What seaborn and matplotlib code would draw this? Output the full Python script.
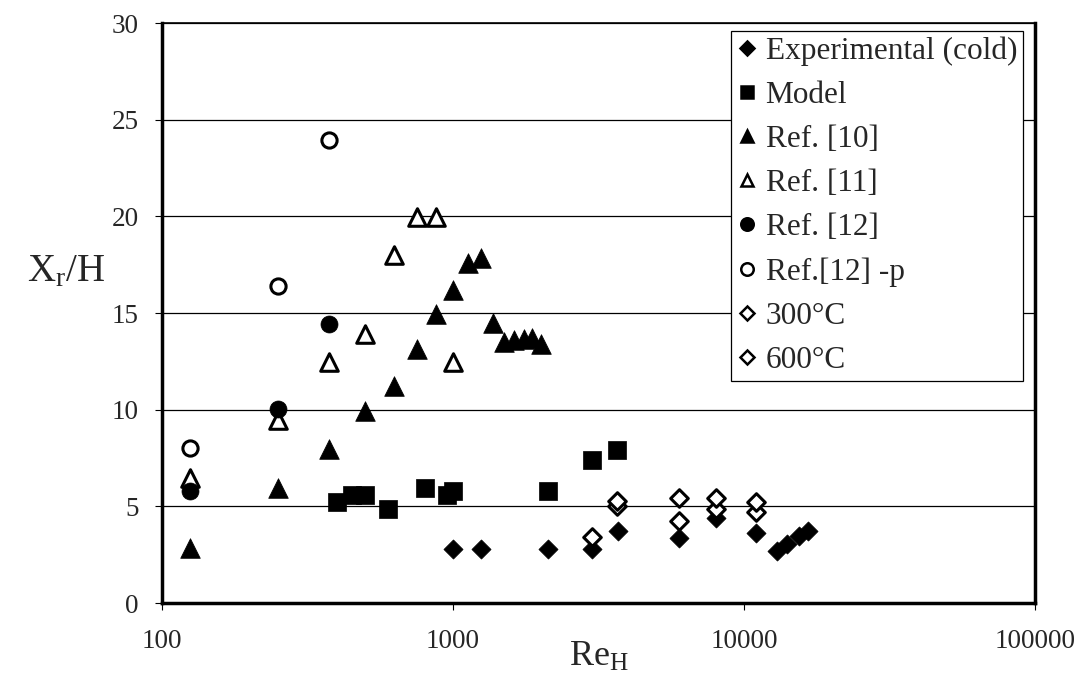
import matplotlib
matplotlib.use("Agg")
import matplotlib.pyplot as plt
from matplotlib.lines import Line2D
import seaborn as sns
import pandas as pd

# values
re_exp = [1000, 1250, 2120, 3000, 3700, 6000, 8000, 11000, 13000, 14000, 15500, 16600]
xr_exp = [2.8, 2.8, 2.8, 2.8, 3.7, 3.35, 4.4, 3.6, 2.7, 3.05, 3.45, 3.75]

re_model = [400, 450, 500, 600, 800, 950, 1000, 2120, 3000, 3650]
xr_model = [5.25, 5.6, 5.6, 4.85, 5.95, 5.6, 5.8, 5.8, 7.4, 7.9]

re_ref10 = [125, 250, 375, 500, 625, 750, 875, 1000, 1130, 1250, 1375, 1500, 1625, 1750, 1875, 2000]
xr_ref10 = [2.85, 5.95, 7.95, 9.95, 11.25, 13.15, 14.95, 16.2, 17.6, 17.85, 14.5, 13.5, 13.6, 13.65, 13.7, 13.4]

re_ref11 = [125, 250, 375, 500, 625, 750, 875, 1000]
xr_ref11 = [6.45, 9.45, 12.45, 13.9, 18.0, 19.95, 19.95, 12.45]

re_ref12 = [125, 250, 375]
xr_ref12 = [5.8, 10.05, 14.45]

re_ref12p = [125, 250, 375]
xr_ref12p = [8.0, 16.4, 23.95]

re_300 = [3000, 3650, 6000, 8000, 11000]
xr_300 = [3.4, 5.0, 4.25, 4.85, 4.7]

re_600 = [3650, 6000, 8000, 11000]
xr_600 = [5.3, 5.45, 5.45, 5.2]

y_ticks = [0, 5, 10, 15, 20, 25, 30]
x_ticks = [100, 1000, 10000, 100000]

sns.set_theme(style="white")
plt.rcParams["font.family"] = ["Liberation Serif", "DejaVu Serif"]
plt.rcParams["mathtext.fontset"] = "custom"
plt.rcParams["mathtext.rm"] = "Liberation Serif"

# label, x, y, marker, size, filled
series = [
    ("Experimental (cold)", re_exp, xr_exp, "D", 95, True),
    ("Model", re_model, xr_model, "s", 150, True),
    ("Ref. [10]", re_ref10, xr_ref10, "^", 200, True),
    ("Ref. [11]", re_ref11, xr_ref11, "^", 160, False),
    ("Ref. [12]", re_ref12, xr_ref12, "o", 150, True),
    ("Ref.[12] -p", re_ref12p, xr_ref12p, "o", 120, False),
    ("300\u00b0C", re_300, xr_300, "D", 80, False),
    ("600\u00b0C", re_600, xr_600, "D", 80, False),
]

fig = plt.figure(figsize=(10.81, 6.77), dpi=100)
ax = fig.add_axes([0.1499, 0.1093, 0.8076, 0.8567])

handles = []
for label, xs, ys, m, s, filled in series:
    df = pd.DataFrame({"Re": xs, "Xr": ys})
    if filled:
        sns.scatterplot(data=df, x="Re", y="Xr", ax=ax, marker=m, s=s,
                        color="black", edgecolor="black", linewidth=0.5, zorder=3)
    else:
        sns.scatterplot(data=df, x="Re", y="Xr", ax=ax, marker=m, s=s,
                        color="white", edgecolor="black", linewidth=2.2, zorder=3)
    handles.append(Line2D([], [], linestyle="none", marker=m,
                          markersize=7 if m == "D" else 9,
                          markerfacecolor="black" if filled else "white",
                          markeredgecolor="black", markeredgewidth=1.8,
                          label=label))

ax.set_xscale("log")
ax.set_xlim(100, 100000)
ax.set_ylim(0, 30)
ax.set_xticks(x_ticks)
ax.set_xticklabels([str(t) for t in x_ticks])
ax.minorticks_off()
ax.set_yticks(y_ticks)
ax.yaxis.grid(True, color="black", linewidth=0.9)
ax.xaxis.grid(False)
ax.set_axisbelow(True)

ax.tick_params(axis="both", which="major", labelsize=19.5, length=5, width=0.8,
               direction="out", color="black", bottom=True, left=True)
ax.tick_params(axis="x", pad=14)
ax.tick_params(axis="y", pad=12)

for side in ["left", "bottom", "right"]:
    ax.spines[side].set_color("black")
    ax.spines[side].set_linewidth(2.5)
ax.spines["top"].set_color("black")
ax.spines["top"].set_linewidth(1.2)

ax.set_xlabel(r"$\mathregular{Re_H}$", fontsize=26)
ax.xaxis.set_label_coords(0.5, -0.066)
ax.set_ylabel(r"$\mathregular{X_r/H}$", fontsize=28, rotation=0)
ax.yaxis.set_label_coords(-0.11, 0.54)

leg = ax.legend(handles=handles, loc="upper right", bbox_to_anchor=(0.9865, 0.987),
                fontsize=22.5, frameon=True, fancybox=False, framealpha=1,
                edgecolor="black", handlelength=0.6, handletextpad=0.3,
                labelspacing=0.48, borderpad=0.2, borderaxespad=0)
leg.get_frame().set_linewidth(0.9)

fig.savefig("out.png", dpi=100)
